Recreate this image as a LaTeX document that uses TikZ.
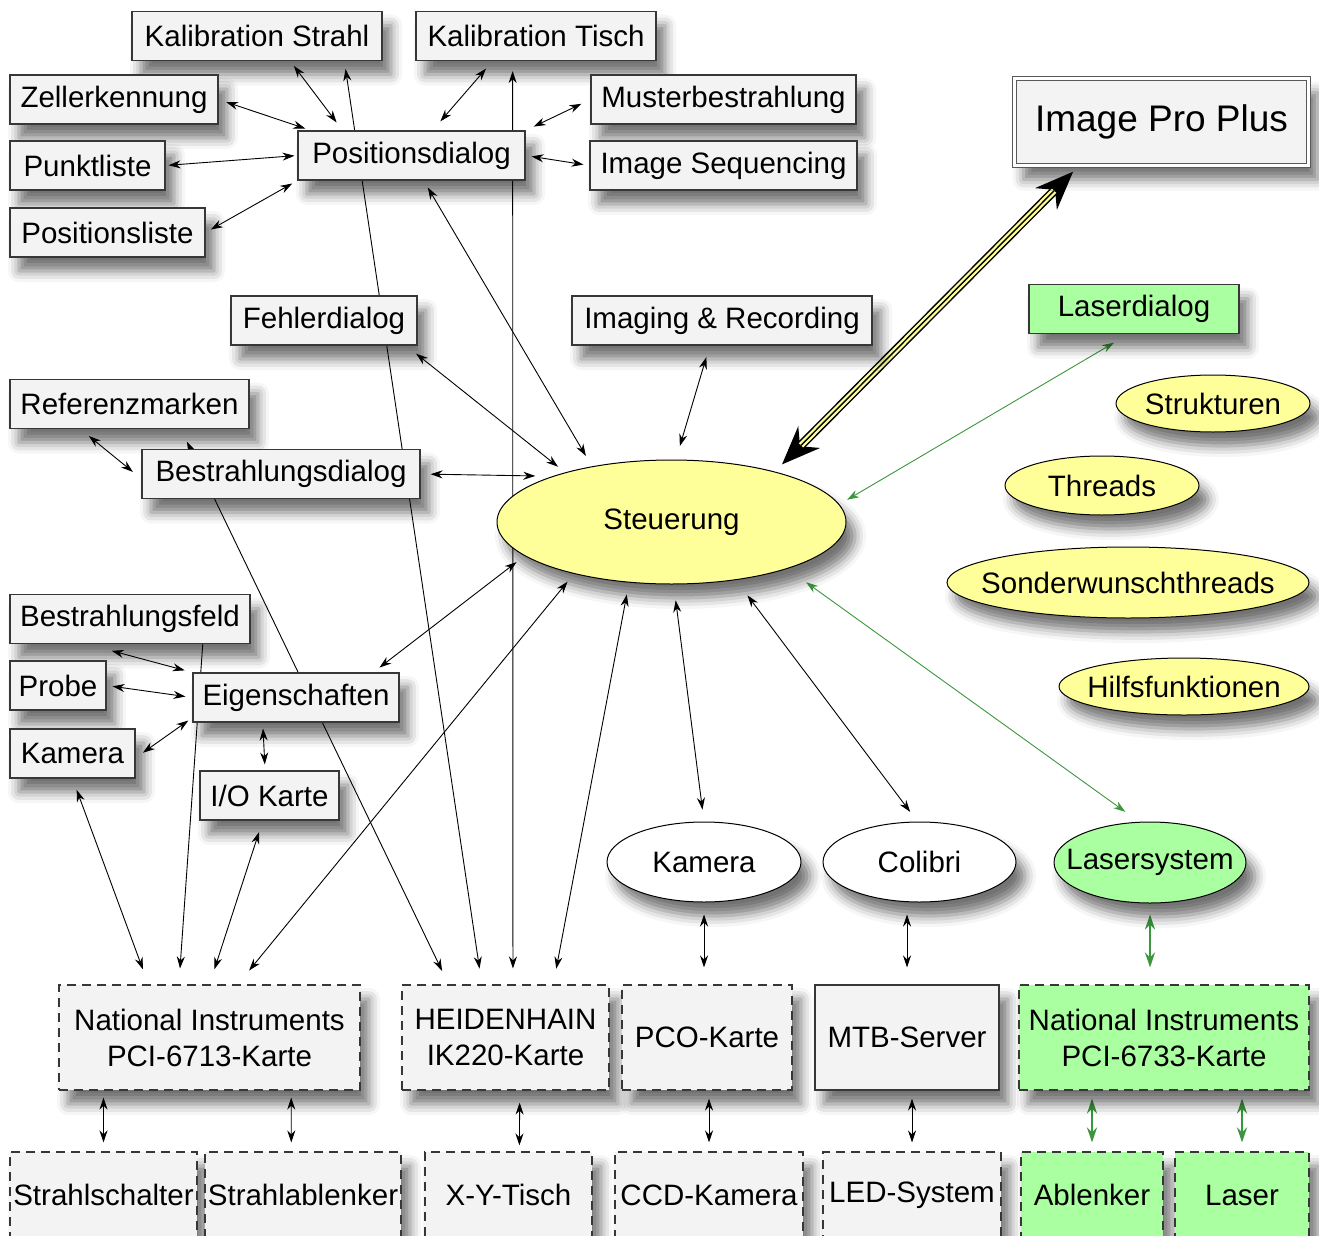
\documentclass[tikz,border=0pt]{standalone}
\usepackage{fontspec}
\setmainfont{Liberation Sans}
\usetikzlibrary{shapes.geometric,arrows.meta,positioning,backgrounds,shadows.blur}
\definecolor{bxgray}{RGB}{243,243,243}
\definecolor{bxline}{RGB}{55,55,55}
\definecolor{ylw}{RGB}{255,255,153}
\definecolor{lgrn}{RGB}{170,255,160}
\definecolor{dgrn}{RGB}{60,150,60}
\newcommand{\zw}[1]{\makebox[0pt]{#1}}
\tikzset{
  shd/.style={blur shadow={shadow xshift=9pt, shadow yshift=-14pt,
              shadow blur radius=11pt, shadow opacity=55}},
  rbox/.style={rectangle, draw=bxline, line width=1.1pt, fill=bxgray,
               inner sep=0pt, minimum height=49pt, shd},
  gbox/.style={rbox, fill=lgrn},
  dbox/.style={rbox, dash pattern=on 9pt off 6pt, minimum height=105pt, align=center},
  gdbox/.style={dbox, fill=lgrn},
  lbox/.style={dbox, minimum height=86pt},
  glbox/.style={lbox, fill=lgrn},
  ippbox/.style={rectangle, draw=gray!70!black, line width=0.9pt, double=white,
                 double distance=3pt, fill=bxgray, inner sep=0pt,
                 minimum width=294pt, minimum height=87pt,
                 font=\fontsize{37}{44}\selectfont, shd},
  yell/.style={ellipse, draw=black, line width=1pt, fill=ylw, inner sep=0pt, shd},
  well/.style={yell, fill=white},
  gell/.style={yell, fill=lgrn},
  ed/.style={{Stealth[length=12pt,width=8pt]}-{Stealth[length=12pt,width=8pt]},
             line width=0.9pt, shorten <=6pt, shorten >=6pt},
  edo/.style={-{Stealth[length=12pt,width=8pt]}, line width=0.9pt},
  edg/.style={ed, draw=dgrn},
  edgt/.style={{Stealth[length=15pt,width=10pt]}-{Stealth[length=15pt,width=10pt]},
               draw=dgrn, line width=2.2pt},
  bigarr/.style={{Stealth[length=38pt,width=30pt]}-{Stealth[length=38pt,width=30pt]},
                 line width=9pt},
  bigfill/.style={line width=6pt, draw=ylw}
}
\begin{document}
\begin{tikzpicture}[x=1pt, y=-1pt, font=\fontsize{29.5}{36}\selectfont]
\useasboundingbox (0,0) rectangle (1319,1236);
\clip (0,0) rectangle (1319,1236);
% dialogs
\node[rbox, minimum width=250pt] (ks) at (257,36) {Kalibration Strahl};
\node[rbox, minimum width=240pt] (kt) at (536,36) {Kalibration Tisch};
\node[rbox, minimum width=208pt] (zell) at (114,99.5) {Zellerkennung};
\node[rbox, minimum width=265pt] (must) at (723.5,99.5) {Musterbestrahlung};
\node[rbox, minimum width=227pt] (posd) at (411.5,155.5) {Positionsdialog};
\node[rbox, minimum width=155pt] (punkt) at (87.5,165.5) {Punktliste};
\node[rbox, minimum width=267pt] (iseq) at (723.5,165.5) {Image Sequencing};
\node[rbox, minimum width=195pt] (posl) at (107.5,232.5) {Positionsliste};
\node[ippbox] (ipp) at (1161.5,122) {Image Pro Plus};
\node[rbox, minimum width=186pt] (fehl) at (324,320.5) {Fehlerdialog};
\node[rbox, minimum width=300pt] (imrec) at (722,320.5) {Imaging \& Recording};
\node[gbox, minimum width=210pt] (ldlg) at (1134,309) {Laserdialog};
\node[rbox, minimum width=239pt] (ref) at (129.5,404) {Referenzmarken};
\node[rbox, minimum width=278pt] (bdlg) at (281,474) {Bestrahlungsdialog};
\node[yell, minimum width=349pt, minimum height=124pt] (steu) at (671.5,522) {\zw{Steuerung}};
\node[yell, minimum width=194pt, minimum height=57pt] (strukt) at (1213,403.5) {\zw{Strukturen}};
\node[yell, minimum width=194pt, minimum height=59pt] (threads) at (1102,485.5) {\zw{Threads}};
\node[yell, minimum width=362pt, minimum height=71pt] (sonder) at (1128,582.5) {\zw{Sonderwunschthreads}};
\node[yell, minimum width=250pt, minimum height=57pt] (hilfs) at (1184,686.5) {\zw{Hilfsfunktionen}};
\node[rbox, minimum width=240pt] (bfeld) at (130,619) {Bestrahlungsfeld};
\node[rbox, minimum width=96pt] (probe) at (58,685.5) {Probe};
\node[rbox, minimum width=206pt] (eig) at (296,697.5) {Eigenschaften};
\node[rbox, minimum width=125pt] (kamr) at (72.5,753.5) {Kamera};
\node[rbox, minimum width=139pt] (io) at (269.5,795.5) {I/O Karte};
\node[well, minimum width=194pt, minimum height=80pt] (kame) at (704,862) {\zw{Kamera}};
\node[well, minimum width=193pt, minimum height=80pt] (coli) at (919.5,862) {\zw{Colibri}};
\node[gell, minimum width=192pt, minimum height=81pt] (lsys) at (1150,862.5) {\zw{Lasersystem}};
% hardware
\node[dbox, minimum width=301pt] (ni1) at (209.5,1037.5) {National Instruments\\PCI-6713-Karte};
\node[dbox, minimum width=207pt] (heid) at (505.5,1037.5) {HEIDENHAIN\\IK220-Karte};
\node[dbox, minimum width=170pt] (pco) at (707,1037.5) {PCO-Karte};
\node[rbox, minimum width=184pt, minimum height=105pt] (mtb) at (907,1037.5) {MTB-Server};
\node[gdbox, minimum width=290pt] (ni2) at (1164,1037.5) {National Instruments\\PCI-6733-Karte};
\node[lbox, minimum width=187pt] (sschalt) at (103.5,1195) {Strahlschalter};
\node[lbox, minimum width=196pt] (sabl) at (303,1195) {Strahlablenker};
\node[lbox, minimum width=167pt] (xyt) at (508.5,1195) {X-Y-Tisch};
\node[lbox, minimum width=188pt] (ccd) at (709,1195) {CCD-Kamera};
\node[lbox, minimum width=178pt] (led) at (912,1195) {LED-System};
\node[glbox, minimum width=142pt] (abl) at (1092,1195) {Ablenker};
\node[glbox, minimum width=134pt] (laser) at (1242,1195) {Laser};

\begin{pgfonlayer}{background}
\draw[ed, shorten <=8pt, shorten >=6pt] (zell.east) -- (posd.166);
\draw[ed, shorten <=3pt, shorten >=3pt] (punkt.east) -- (posd.west);
\draw[ed] (posl.east) -- (posd.south west);
\draw[ed, shorten <=6pt, shorten >=10pt] (ks.-37) -- (posd.160);
\draw[ed, shorten <=10pt, shorten >=12pt] (kt.210) -- (posd.50);
\draw[ed, shorten <=10pt, shorten >=9pt] (must.west) -- (posd.north east);
\draw[ed] (posd.east) -- (iseq.west);
\draw[ed, shorten <=8pt, shorten >=16pt] (ks.-16) -- (heid.114);
\draw[ed, shorten <=10pt, shorten >=16pt] (kt.227) -- (heid.82);
\draw[ed, shorten <=14pt, shorten >=15pt] (ref.-26) -- (heid.137);
\draw[ed, shorten <=12pt, shorten >=16pt] (steu.235) -- (heid.48);
\draw[ed, shorten <=10pt, shorten >=18pt] (steu.208) -- (ni1.62);
\draw[ed, shorten <=12pt, shorten >=16pt] (kamr.south) -- (ni1.139);
\draw[edo, shorten >=16pt] (bfeld.-19) -- (ni1.120);
\draw[ed, shorten <=12pt, shorten >=16pt] (io.255) -- (ni1.north);
\draw[ed, shorten <=8pt, shorten >=10pt] (eig.18) -- (steu.193);
\draw[ed, shorten <=8pt, shorten >=12pt] (posd.-64) -- (steu.145);
\draw[ed, shorten <=13pt, shorten >=9pt] (fehl.-17) -- (steu.155);
\draw[ed, shorten <=10pt, shorten >=17pt] (bdlg.east) -- (steu.159);
\draw[ed, shorten <=12pt, shorten >=14pt] (imrec.244) -- (steu.86);
\draw[ed, shorten <=16pt, shorten >=12pt] (steu.-88) -- (kame.north);
\draw[ed, shorten <=19pt, shorten >=12pt] (steu.-42) -- (coli.93);
\draw[edg, shorten <=9pt, shorten >=17pt] (steu.6) -- (ldlg.-102);
\draw[edg, shorten <=23pt, shorten >=17pt] (steu.-22) -- (lsys.105);
% Image Pro Plus
\draw[bigarr, shorten <=10pt, shorten >=8pt] (steu.26) -- (ipp.208);
\draw[bigfill, shorten <=37pt, shorten >=35pt] (steu.26) -- (ipp.208);
\draw[line width=1.4pt, shorten <=37pt, shorten >=35pt] (steu.26) -- (ipp.208);
% Eigenschaften
\draw[ed, shorten <=11pt, shorten >=11pt] (ref.207) -- (bdlg.182);
\draw[ed, shorten <=26pt, shorten >=8pt] (bfeld.210) -- (eig.north west);
\draw[ed, shorten <=6pt, shorten >=7pt] (probe.east) -- (eig.west);
\draw[ed, shorten <=9pt, shorten >=5pt] (kamr.-4) -- (eig.191);
\draw[ed] (eig.-143) -- (io.100);
% Karten
\draw[ed, shorten <=12pt, shorten >=17pt] (kame.south) -- (kame.south |- pco.north);
\draw[ed, shorten <=12pt, shorten >=17pt] (mtb.north |- coli.south) -- (mtb.north);
\draw[edgt, shorten <=11pt, shorten >=17pt] (lsys.south) -- (lsys.south |- ni2.north);
\draw[ed, shorten <=7pt, shorten >=9pt] (sschalt.north |- ni1.south) -- (sschalt.north);
\draw[ed, shorten <=7pt, shorten >=9pt] (ni1.-33) -- (sabl.105);
\draw[ed, shorten <=12pt, shorten >=6pt] (heid.-75) -- (xyt.76);
\draw[ed, shorten <=8pt, shorten >=9pt] (ccd.north |- pco.south) -- (ccd.north);
\draw[ed, shorten <=8pt, shorten >=9pt] (led.north |- mtb.south) -- (led.north);
\draw[edgt, shorten <=8pt, shorten >=9pt] (abl.north |- ni2.south) -- (abl.north);
\draw[edgt, shorten <=8pt, shorten >=9pt] (laser.north |- ni2.south) -- (laser.north);
\end{pgfonlayer}
\end{tikzpicture}
\end{document}
